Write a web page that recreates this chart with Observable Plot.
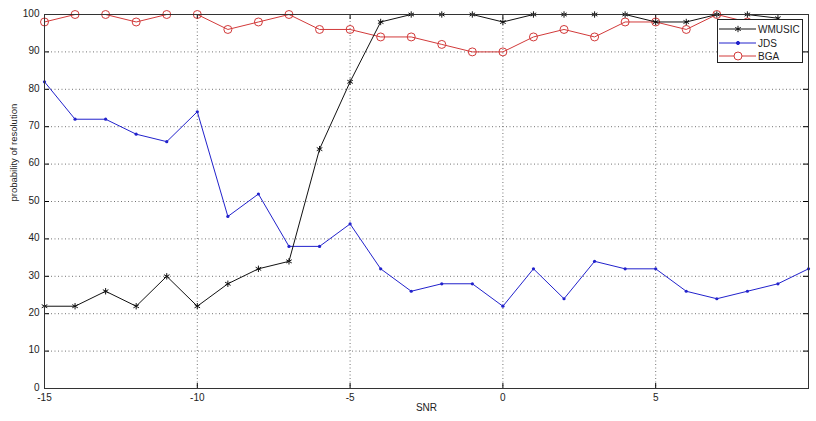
<!DOCTYPE html>
<html><head><meta charset="utf-8">
<script src="https://cdn.jsdelivr.net/npm/d3@7"></script>
<script src="https://cdn.jsdelivr.net/npm/@observablehq/plot@0.6"></script>
<style>
body{margin:0;background:#fff;}
#c{position:relative;width:816px;height:421px;font-family:"Liberation Sans",Arial,sans-serif;}
#legend{position:absolute;left:717px;top:19px;width:86px;height:44px;border:1px solid #222;background:#fff;box-sizing:border-box;}
#legend .row{position:absolute;left:0;height:14px;display:flex;align-items:center;}
#legend span{font-size:10px;color:#222;margin-left:2px;}
</style>
</head><body><div id="c"></div>
<script>
const snr = [-15,-14,-13,-12,-11,-10,-9,-8,-7,-6,-5,-4,-3,-2,-1,0,1,2,3,4,5,6,7,8,9,10];
const wmusic = [22,22,26,22,30,22,28,32,34,64,82,98,100,100,100,98,100,100,100,100,98,98,100,100,99,null];
const jds = [82,72,72,68,66,74,46,52,38,38,44,32,26,28,28,22,32,24,34,32,32,26,24,26,28,32];
const bga = [98,100,100,98,100,100,96,98,100,96,96,94,94,92,90,90,94,96,94,98,98,96,100,98,96,null];
const seriesNames = ["WMUSIC","JDS","BGA"];
const seriesColors = ["#111111","#2222cc","#d23a3a"];
const xTicks = [-15,-10,-5,0,5];
const yTicks = [0,10,20,30,40,50,60,70,80,90,100];

const W = 816, H = 421, mL = 44, mR = 8, mT = 14, mB = 33;
const pw = W - mL - mR, ph = H - mT - mB;

const rows = (vals) => snr.map((x, i) => ({x, y: vals[i]}));
const dW = rows(wmusic), dJ = rows(jds), dB = rows(bga);

const grid = {stroke:"#000", strokeOpacity:0.55, strokeDasharray:"1,2.5", strokeWidth:1};

const chart = Plot.plot({
  width: W, height: H,
  marginLeft: mL, marginRight: mR, marginTop: mT, marginBottom: mB,
  style: {fontFamily: "Liberation Sans, Arial, sans-serif", fontSize: "10px", color: "#222", background: "#fff"},
  x: {domain: [-15, 10], ticks: xTicks},
  y: {domain: [0, 100], ticks: yTicks},
  marks: [
    Plot.gridY(yTicks.slice(1, -1), grid),
    Plot.gridX(xTicks.slice(1), grid),
    // inward ticks
    Plot.tickY(yTicks, {y: d => d, insetRight: pw - 5, stroke: "#000"}),
    Plot.tickY(yTicks, {y: d => d, insetLeft: pw - 5, stroke: "#000"}),
    Plot.tickX(xTicks, {x: d => d, insetTop: ph - 5, stroke: "#000"}),
    Plot.tickX(xTicks, {x: d => d, insetBottom: ph - 5, stroke: "#000"}),
    Plot.line(dJ, {x: "x", y: "y", stroke: seriesColors[1], strokeWidth: 1}),
    Plot.dot(dJ, {x: "x", y: "y", fill: seriesColors[1], r: 1.6}),
    Plot.line(dB, {x: "x", y: "y", stroke: seriesColors[2], strokeWidth: 1}),
    Plot.dot(dB, {x: "x", y: "y", stroke: seriesColors[2], r: 4, strokeWidth: 1}),
    Plot.line(dW, {x: "x", y: "y", stroke: seriesColors[0], strokeWidth: 1}),
    Plot.dot(dW, {x: "x", y: "y", stroke: seriesColors[0], symbol: "asterisk", r: 3, strokeWidth: 1}),
    Plot.frame({stroke: "#333", strokeWidth: 1}),
    Plot.axisY(yTicks, {tickSize: 0, tickPadding: 5, label: null, fill: "#222", tickFormat: d => String(d), dy: -1}),
    Plot.axisX(xTicks, {tickSize: 0, tickPadding: 5, label: null, fill: "#222", tickFormat: d => String(d)}),
    Plot.text(["probability of resolution"], {frameAnchor: "left", dx: -31, rotate: -90, fontSize: 9.5, fill: "#222"}),
    Plot.text(["SNR"], {frameAnchor: "bottom", dy: 22, fontSize: 10, fill: "#222"})
  ]
});
const c = document.getElementById("c");
c.appendChild(chart);

// legend
const lg = document.createElement("div");
lg.id = "legend";
const tops = [2, 16, 29];
seriesNames.forEach((name, i) => {
  const r = document.createElement("div");
  r.className = "row";
  r.style.top = tops[i] + "px";
  const s = d3.create("svg").attr("width", 38).attr("height", 14);
  s.append("line").attr("x1", 1).attr("x2", 38).attr("y1", 7).attr("y2", 7).attr("stroke", seriesColors[i]);
  const sym = [d3.symbolAsterisk, d3.symbolCircle, d3.symbolCircle][i];
  const size = [28, 8, 50][i];
  s.append("path").attr("transform", "translate(20,7)").attr("d", d3.symbol(sym, size)())
    .attr("fill", i === 1 ? seriesColors[i] : "#fff").attr("stroke", seriesColors[i]);
  r.appendChild(s.node());
  const t = document.createElement("span");
  t.textContent = name;
  r.appendChild(t);
  lg.appendChild(r);
});
c.appendChild(lg);
</script>
</body></html>
